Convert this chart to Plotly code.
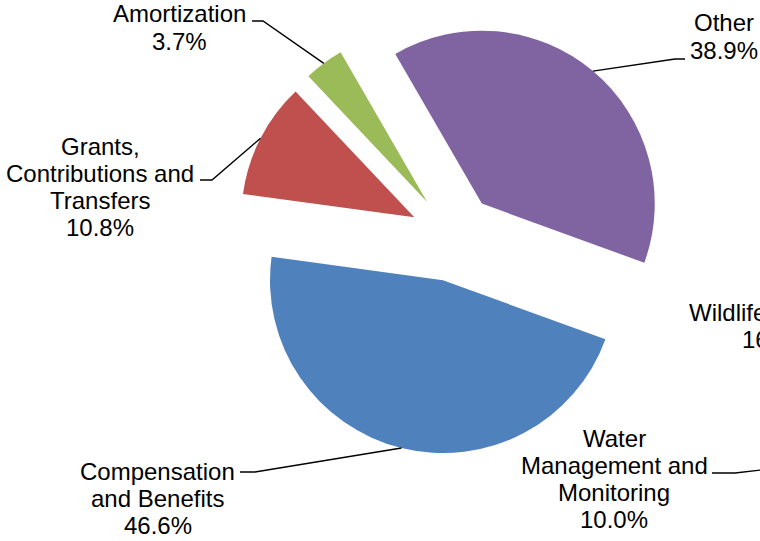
import math
import plotly.graph_objects as go

W, H = 760, 541

# Expense breakdown shown in the pie
categories = ["Compensation and Benefits", "Grants, Contributions and Transfers",
              "Amortization", "Other"]
shares = [46.6, 10.8, 3.7, 38.9]
colors = ["#4F81BD", "#C0504D", "#9BBB59", "#8064A2"]
label_lines = [["Compensation", "and Benefits"],
               ["Grants,", "Contributions and", "Transfers"],
               ["Amortization"],
               ["Other"]]

# Labels belonging to the neighbouring chart on the right edge
side_lines = [["Wildlife"], ["Water", "Management and", "Monitoring"]]
side_shares = [16.4, 10.0]

FONT = dict(family="Liberation Sans, Arial, sans-serif", size=24, color="#000000")
LINE_GAP = 27.3

# pie geometry (pixels)
cx, cy = 453.5, 237.4
outer = 217.0
pull = 0.255
rotation = 110
r = outer / (1 + pull)


def px(x):
    return x / W


def py(y):
    return 1 - y / H


fig = go.Figure(go.Pie(
    labels=categories, values=shares, sort=False, direction="clockwise",
    rotation=rotation, pull=[pull] * len(shares),
    marker=dict(colors=colors, line=dict(width=0)),
    textinfo="none", hoverinfo="label+percent", showlegend=False,
    domain=dict(x=[px(cx - outer), px(cx + outer)],
                y=[py(cy + outer), py(cy - outer)]),
))

# arc midpoint of every exploded slice, where its leader line ends
total = sum(shares)
anchors = []
cum = 0.0
for v in shares:
    mid = math.radians(rotation + 360 * (cum + v / 2) / total)
    d = (r * pull + r)
    anchors.append((cx + d * math.sin(mid), cy - d * math.cos(mid)))
    cum += v

# text block placement: (centre x, first line y, xanchor), and leader elbow points
blocks = [
    dict(x=157.5, y=471, start=(240, 472), elbow=(255, 472)),
    dict(x=100, y=146, start=(200, 180), elbow=(212, 180)),
    dict(x=179, y=14, start=(252, 21), elbow=(263, 21)),
    dict(x=724, y=23, start=(685, 59), elbow=(675, 59)),
]

annotations = []
shapes = []


def add_text_block(lines, value, x, y0, xanchor="center"):
    for i, t in enumerate(lines + [f"{value:.1f}%"]):
        annotations.append(dict(
            x=px(x), y=py(y0 + i * LINE_GAP), xref="paper", yref="paper",
            text=t, showarrow=False, font=FONT,
            xanchor=xanchor, yanchor="middle"))


def add_leader(points):
    path = "M " + " L ".join(f"{px(a)},{py(b)}" for a, b in points)
    shapes.append(dict(type="path", path=path, xref="paper", yref="paper",
                       line=dict(color="#000000", width=1.4)))


for lines, v, b, a in zip(label_lines, shares, blocks, anchors):
    add_text_block(lines, v, b["x"], b["y"])
    add_leader([b["start"], b["elbow"], a])

# labels of the adjacent chart, running off the right edge
annotations.append(dict(x=px(687), y=py(312), xref="paper", yref="paper",
                        text=side_lines[0][0], showarrow=False, font=FONT,
                        xanchor="left", yanchor="middle"))
annotations.append(dict(x=px(740), y=py(312 + LINE_GAP), xref="paper", yref="paper",
                        text=f"{side_shares[0]:.1f}%", showarrow=False, font=FONT,
                        xanchor="left", yanchor="middle"))
add_text_block(side_lines[1], side_shares[1], 614, 438)
add_leader([(712, 473), (735, 473), (770, 469)])

fig.update_layout(
    width=W, height=H, margin=dict(l=0, r=0, t=0, b=0),
    paper_bgcolor="#FFFFFF", plot_bgcolor="#FFFFFF",
    annotations=annotations, shapes=shapes,
)

fig.write_html("out.html")
